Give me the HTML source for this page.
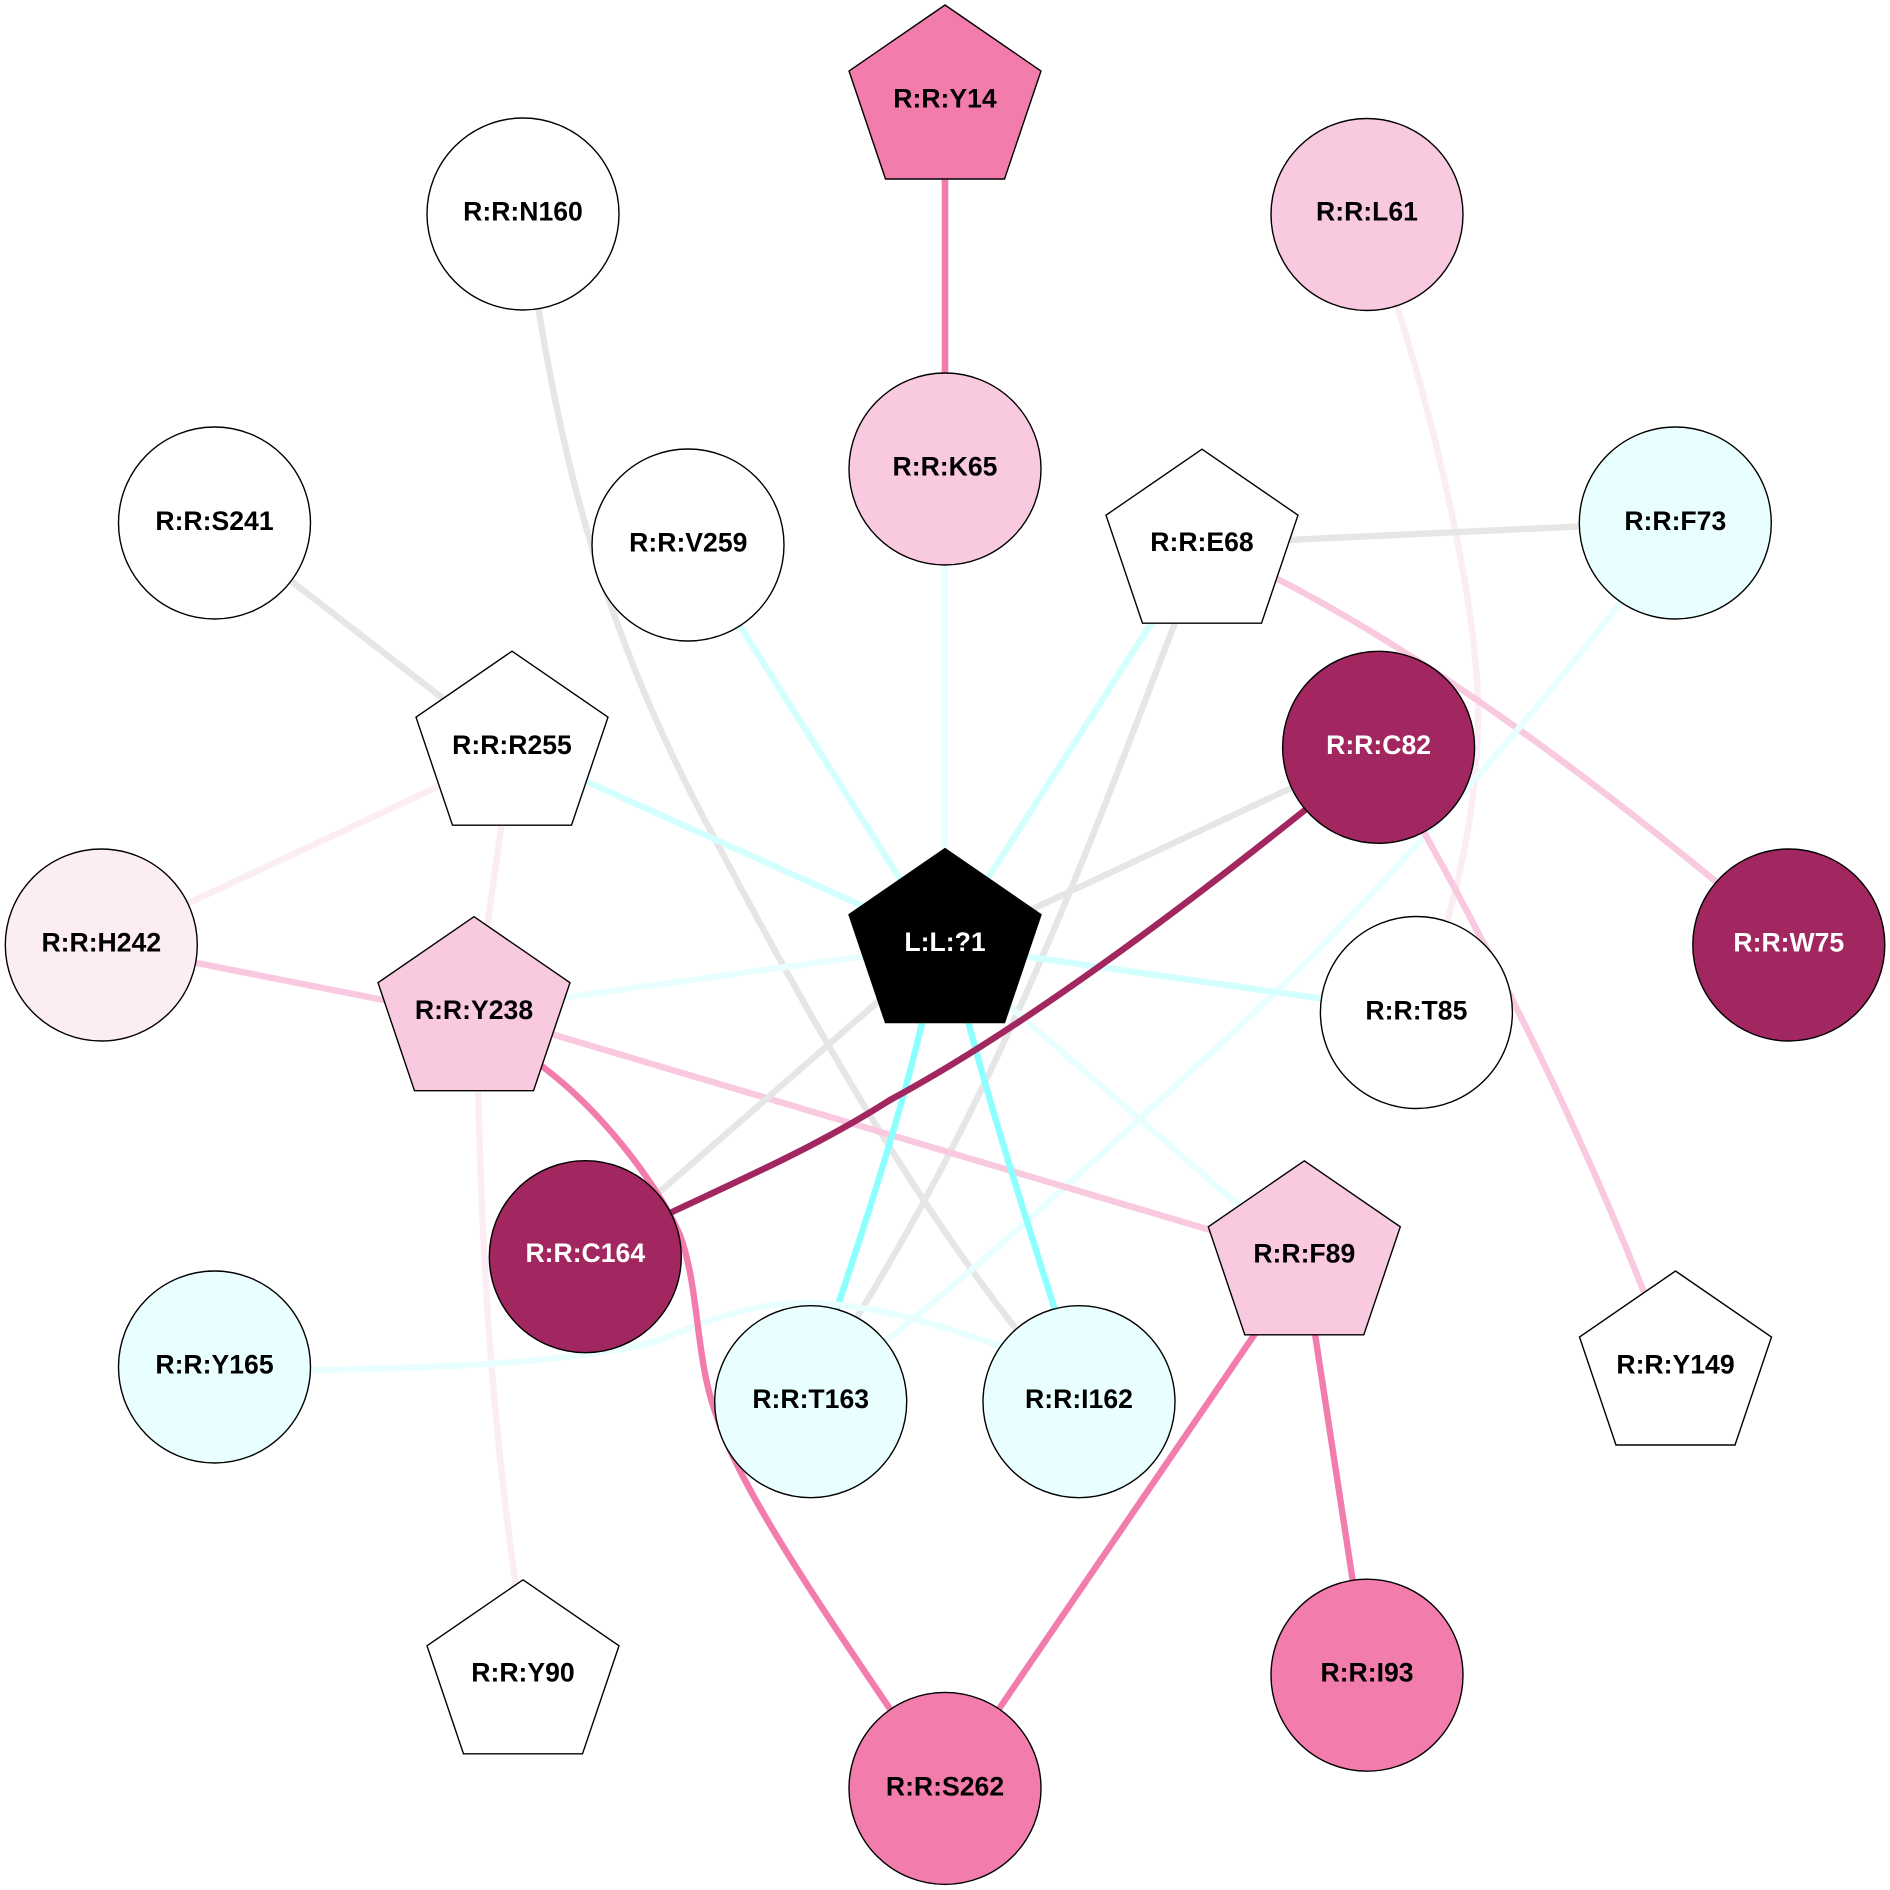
<!DOCTYPE html>
<html><head><meta charset="utf-8"><style>
html,body{margin:0;padding:0;background:#fff}
svg{display:block}
text{font-family:"Liberation Sans",Arial,sans-serif;font-weight:bold;font-size:26.6px;text-anchor:middle;fill:#000}
.w{fill:#fff}
path,line{fill:none;stroke-width:6.4}
.n circle,.n polygon{stroke:#000;stroke-width:1.4}
.g{stroke:#e6e6e6}.c1{stroke:#e9ffff}.c2{stroke:#d3ffff}.c3{stroke:#8cffff}
.p1{stroke:#fcedf4}.p2{stroke:#f9c9df}.p3{stroke:#f27dac}.d{stroke:#a2265f}
</style></head><body>
<svg width="1890" height="1890" viewBox="0 0 1890 1890" xmlns="http://www.w3.org/2000/svg">
<rect width="1890" height="1890" fill="#fff"/>
<g>
<line class="p3" x1="945" y1="100" x2="945" y2="468" style="stroke-width:6.6"/>
<path class="g" d="M523,213 C555,420 585,600 717,843 C795,990 935,1250 1079,1402"/>
<path class="p1" d="M1367,214 L1395,300 C1440,440 1480,620 1478,720 C1477,790 1465,860 1446,925"/>
<line class="c1" x1="945" y1="468" x2="945" y2="945"/>
<line class="g" x1="215" y1="522" x2="512" y2="752"/>
<line class="c2" x1="688" y1="544" x2="945" y2="950"/>
<line class="c2" x1="1202" y1="544" x2="945" y2="945"/>
<line class="g" x1="1202" y1="544" x2="1675" y2="522"/>
<path class="p2" d="M1202,540 L1260,570 C1400,640 1550,745 1720,885 L1789,944"/>
<path class="g" d="M1202,544 L1175,623 C1110,790 1015,1060 863,1307 L811,1402"/>
<path class="c1" d="M1675,523 L1620,603 C1510,745 1380,890 1274,994 C1150,1110 1000,1250 887,1340 L811,1402"/>
<line class="g" x1="1379" y1="747" x2="945" y2="950"/>
<path class="p2" d="M1379,747 L1400,790 C1475,920 1575,1115 1645,1295 L1675,1370"/>
<line class="c2" x1="512" y1="748" x2="945" y2="943"/>
<line class="p1" x1="512" y1="752" x2="101" y2="944"/>
<line class="p1" x1="512" y1="752" x2="474" y2="1018"/>
<line class="p2" x1="101" y1="944" x2="474" y2="1018"/>
<line class="c1" x1="474" y1="1010" x2="945" y2="945"/>
<line class="p2" x1="474" y1="1011" x2="1304" y2="1258"/>
<path class="p1" d="M478,1000 L478,1085 C482,1250 490,1400 515,1580 L523,1670"/>
<line class="c2" x1="945" y1="945" x2="1416" y2="1012"/>
<line class="g" x1="945" y1="943" x2="585" y2="1257"/>
<line class="c1" x1="945" y1="950" x2="1304" y2="1262"/>
<path class="c3" d="M935,960 L925,1010 C905,1100 870,1210 838,1305 L811,1402"/>
<path class="c3" d="M955,960 L960,990 C985,1090 1020,1200 1055,1310 L1079,1402"/>
<path class="c1" d="M215,1370 L310,1370 C450,1368 570,1362 650,1343 C690,1330 740,1302 810,1303 C870,1305 930,1320 1025,1355 L1079,1402"/>
<path class="p3" d="M474,1018 L543,1067 C600,1110 655,1180 680,1235 C700,1290 695,1360 717,1417 C740,1490 830,1620 890,1709 L945,1788"/>
<path class="d" d="M1379,747 L1305,810 C1180,910 1020,1030 890,1100 C820,1145 740,1180 670,1213 L585,1257"/>
<line class="p3" x1="1304" y1="1262" x2="945" y2="1788"/>
<line class="p3" x1="1304" y1="1262" x2="1367" y2="1674"/>
</g>
<g class="n">
<polygon fill="#f27dac" points="945,5 1041,71 1004.5,179 885.5,179 849,71"/>
<circle cx="523" cy="214" r="96" fill="#fff"/>
<circle cx="1367" cy="214.5" r="96" fill="#f9c9df"/>
<circle cx="945" cy="469" r="96" fill="#f9c9df"/>
<circle cx="214.5" cy="523" r="96" fill="#fff"/>
<circle cx="688" cy="545" r="96" fill="#fff"/>
<polygon fill="#fff" points="1202,449.2 1298,515.2 1261.5,623.2 1142.5,623.2 1106,515.2"/>
<circle cx="1675.3" cy="523" r="96" fill="#e9ffff"/>
<polygon fill="#fff" points="512,651.2 608,717.2 571.5,825.2 452.5,825.2 416,717.2"/>
<circle cx="1378.6" cy="747.3" r="96" fill="#a2265f"/>
<circle cx="101.3" cy="945" r="96" fill="#fcedf4"/>
<circle cx="1788.8" cy="945" r="96" fill="#a2265f"/>
<polygon fill="#000" points="945,848.6 1041,914.6 1004.5,1022.6 885.5,1022.6 849,914.6"/>
<polygon fill="#f9c9df" points="474,916.7 570,982.7 533.5,1090.7 414.5,1090.7 378,982.7"/>
<circle cx="1416.4" cy="1012.5" r="96" fill="#fff"/>
<circle cx="585.3" cy="1256.7" r="96" fill="#a2265f"/>
<polygon fill="#f9c9df" points="1304.3,1160.8 1400.3,1226.8 1363.8,1334.8 1244.8,1334.8 1208.3,1226.8"/>
<circle cx="214.5" cy="1367" r="96" fill="#e9ffff"/>
<circle cx="810.7" cy="1401.7" r="96" fill="#e9ffff"/>
<circle cx="1079" cy="1401.7" r="96" fill="#e9ffff"/>
<polygon fill="#fff" points="1675.5,1271 1771.5,1337 1735,1445 1616,1445 1579.5,1337"/>
<polygon fill="#fff" points="523,1579.8 619,1645.8 582.5,1753.8 463.5,1753.8 427,1645.8"/>
<circle cx="1367" cy="1675.2" r="96" fill="#f27dac"/>
<circle cx="945" cy="1788.4" r="96" fill="#f27dac"/>
</g>
<g>
<text x="945" y="107.5">R:R:Y14</text>
<text x="523" y="220.5">R:R:N160</text>
<text x="1367" y="220.5">R:R:L61</text>
<text x="945" y="475.5">R:R:K65</text>
<text x="214.5" y="530">R:R:S241</text>
<text x="688.3" y="551.5">R:R:V259</text>
<text x="1202" y="551">R:R:E68</text>
<text x="1675.3" y="530">R:R:F73</text>
<text x="512" y="754">R:R:R255</text>
<text class="w" x="1378.6" y="754">R:R:C82</text>
<text x="101.3" y="951.5">R:R:H242</text>
<text class="w" x="1788.8" y="951.5">R:R:W75</text>
<text class="w" x="945" y="951">L:L:?1</text>
<text x="474" y="1019">R:R:Y238</text>
<text x="1416.4" y="1019.5">R:R:T85</text>
<text class="w" x="585.3" y="1262">R:R:C164</text>
<text x="1304.3" y="1262.5">R:R:F89</text>
<text x="214.5" y="1373.5">R:R:Y165</text>
<text x="810.7" y="1408">R:R:T163</text>
<text x="1079" y="1408">R:R:I162</text>
<text x="1675.5" y="1373.5">R:R:Y149</text>
<text x="523" y="1681.5">R:R:Y90</text>
<text x="1367" y="1681.5">R:R:I93</text>
<text x="945" y="1795.5">R:R:S262</text>
</g>
</svg>
</body></html>
